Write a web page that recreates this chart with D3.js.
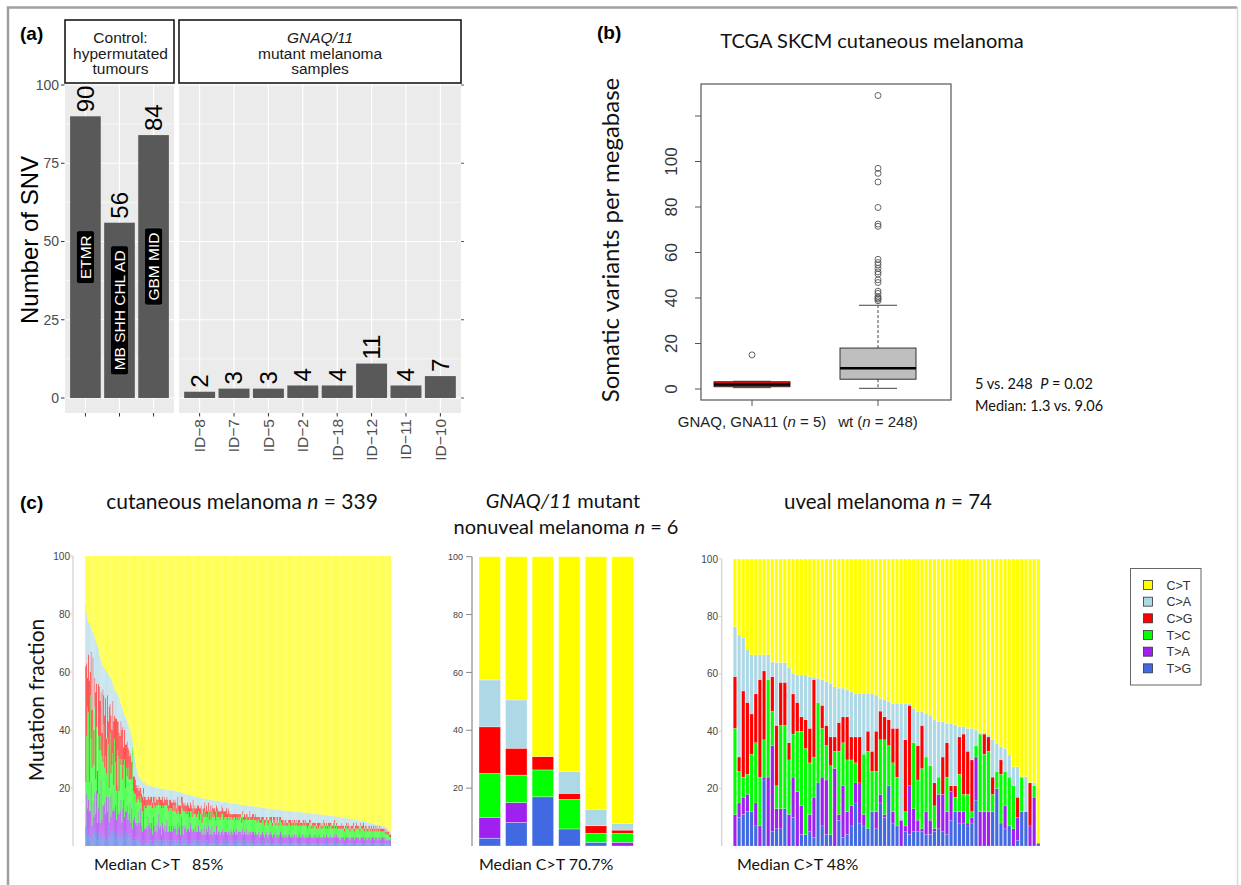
<!DOCTYPE html>
<html>
<head>
<meta charset="utf-8">
<script src="https://cdn.jsdelivr.net/npm/d3@7"></script>
<style>
  body { margin: 0; background: #fff; }
  svg { display: block; }
</style>
</head>
<body>
<div id="figure"></div>
<script>
// ---------- data: panel (a) ----------
const controlSamples = ["ETMR", "MB SHH CHL AD", "GBM MID"];
const controlSNV = [90, 56, 84];
const gnaqSamples = ["ID\u22128", "ID\u22127", "ID\u22125", "ID\u22122", "ID\u221218", "ID\u221212", "ID\u221211", "ID\u221210"];
const gnaqSNV = [2, 3, 3, 4, 4, 11, 4, 7];
const snvTicks = [0, 25, 50, 75, 100];
const stripControl = ["Control:", "hypermutated", "tumours"];
const stripGnaq = ["GNAQ/11", "mutant melanoma", "samples"];

// ---------- data: panel (b) ----------
const boxGroups = ["GNAQ, GNA11", "wt"];
const boxN = [5, 248];
const boxLow = [0.6, 0.3];
const boxQ1 = [1.0, 4.3];
const boxMedian = [2.0, 9.1];
const boxQ3 = [3.2, 18];
const boxHigh = [3.4, 36.8];
const gnaqOutliers = [15];
const wtOutliers = [38.8, 39.5, 40, 40.6, 42, 43, 46.8, 48, 50.5, 51.5, 53, 54.5, 55.6, 57, 71.5, 72.5, 79.8, 91, 94.8, 97, 129];
const tmbTicks = [0, 20, 40, 60, 80, 100, 120];

// ---------- data: panel (c) ----------
const mutTypes = ["C>T", "C>A", "C>G", "T>C", "T>A", "T>G"];
const fracTicks = [20, 40, 60, 80, 100];

// cutaneous melanoma, 339 samples (percent); C>A is what is left to 100
const cutCT = [
  17,20,22,23,23,24,25,26,26,27,
  28,29,30,31,32,34,35,36,37,38,
  38,39,39,40,40,41,41,42,42,43,
  44,45,46,47,47,48,48,49,50,51,
  52,53,54,55,56,56,57,58,59,60,
  61,62,64,67,69,71,73,74,75,76,
  76,77,77,78,78,78,78,79,79,79,
  79,79.1,79.2,79.4,79.5,79.6,79.6,79.8,79.9,80,80,80.1,80.2,80.2,80.3,80.4,80.4,80.5,80.5,80.6,80.6,80.6,80.7,80.7,80.8,80.8,80.8,80.9,80.9,81,
  81,81.1,81.2,81.3,81.4,81.5,81.6,81.7,81.8,81.9,82,82.1,82.2,82.2,82.3,82.4,82.5,82.6,82.7,82.7,82.8,82.9,83,83.1,83.1,83.2,83.3,83.3,83.4,83.5,
  83.6,83.6,83.7,83.8,83.8,83.9,83.9,84,84,84.1,84.2,84.2,84.3,84.3,84.4,84.4,84.5,84.5,84.6,84.6,84.7,84.7,84.8,84.8,84.9,84.9,84.9,85,85,85.1,
  85.2,85.2,85.3,85.3,85.4,85.4,85.5,85.5,85.6,85.6,85.7,85.7,85.8,85.8,85.9,85.9,86,86,86,86.1,86.1,86.2,86.2,86.3,86.3,86.3,86.4,86.4,86.5,86.5,
  86.5,86.6,86.6,86.7,86.7,86.8,86.8,86.9,86.9,87,87,87,87.1,87.1,87.2,87.2,87.3,87.3,87.3,87.4,87.4,87.5,87.5,87.5,87.6,87.6,87.6,87.7,87.7,87.7,
  87.8,87.8,87.8,87.9,87.9,87.9,88,88,88,88.1,88.1,88.1,88.2,88.2,88.2,88.3,88.3,88.3,88.4,88.4,88.4,88.5,88.5,88.5,88.6,88.6,88.6,88.7,88.7,88.8,
  88.8,88.8,88.9,88.9,88.9,89,89,89,89.1,89.1,89.1,89.2,89.2,89.2,89.3,89.3,89.4,89.4,89.4,89.5,89.5,89.6,89.6,89.6,89.7,89.7,89.8,89.8,89.9,89.9,
  90,90,90.1,90.1,90.2,90.2,90.3,90.3,90.4,90.4,90.5,90.5,90.6,90.6,90.7,90.7,90.8,90.8,90.9,90.9,91,91,91.1,91.1,91.2,91.2,91.3,91.3,91.4,91.5,
  91.6,91.7,91.8,91.8,91.9,92,92.1,92.2,92.2,92.3,92.4,92.5,92.6,92.6,92.7,92.8,92.9,93,93,93.1,
  93.1,93.2,93.4,93.6,93.8,94,94.3,94.6,95
];
const cutTG = [
  3,8,5,4,6,3,7,2,5,4, 6,3,5,2,4,6,3,5,2,4, 6,3,5,2,4,7,3,5,2,4, 6,3,5,2,4,6,3,5,2,4,
  3,5,2,4,3,5,2,4,3,5, 2,4,2,3,2,3,2,3,2,3, 2,1,2,1,2,1,2,1,2,1,
  2,1,2,2,1,2,2,1,2,2,1,2,2,2,1,2,2,1,2,2,2,1,2,2,1,2,2,1,2,2,
  2,1,2,2,2,1,2,3,1,2,2,1,2,2,1,2,1,2,2,1,2,2,1,2,1,2,2,1,2,1,
  2,1,2,1,2,2,1,1,2,1,2,1,1,2,1,2,1,1,2,1,1,2,1,1,2,1,2,1,1,2,
  1,2,2,1,2,2,1,2,1,2,2,1,2,1,2,1,2,1,2,1,2,1,1,2,1,2,1,1,2,1,
  1,1,2,1,1,1,2,1,1,1,2,1,1,1,1,2,1,1,1,1,2,1,1,1,1,1,2,1,1,1,
  1,1,1,1,1,2,1,1,1,1,1,1,2,1,1,1,1,1,1,1,2,1,1,1,1,1,1,1,2,1,
  1,1,1,1,1,2,1,1,1,1,1,1,1,1,1,1,1,2,1,1,1,1,1,1,1,1,2,1,1,1,
  1,1,1,1,1,1,1,1,1,1,1,1,1,1,1,1,1,1,1,1,1,1,1,1,1,1,1,1,1,1,
  1,1,1,1,1,1,1,1,1,1,1,1,1,1,1,1,1,1,1,1,
  1,1,1,1,1,1,1,1,1
];
const cutTA = [
  4,10,8,12,6,9,15,5,10,6, 12,8,14,6,9,12,5,18,7,10, 8,12,6,15,8,10,5,12,8,14, 6,10,7,12,5,15,8,6,10,12,
  5,8,14,6,9,7,12,5,8,10, 6,9,4,6,8,5,6,4,10,5, 6,12,5,4,14,5,4,6,4,9,
  5,7,4,6,3,8,5,4,6,3,6,9,4,5,3,6,4,6,3,5,7,4,3,5,4,5,3,6,4,5,
  4,3,6,4,5,3,8,4,3,5,4,6,3,4,5,3,7,4,3,5,4,3,6,3,4,5,3,4,4,3,
  4,3,5,3,4,3,6,3,4,3,5,3,4,3,3,5,3,4,3,3,4,3,5,3,3,4,3,3,4,3,
  3,4,3,3,4,3,3,4,3,3,3,4,3,3,4,3,3,3,4,3,3,3,4,3,3,3,4,3,3,3,
  3,3,3,2,3,3,3,3,2,3,3,3,2,3,3,3,3,2,3,3,3,2,3,3,2,3,3,3,2,3,
  2,3,2,3,2,2,3,2,2,3,2,3,2,2,3,2,2,3,2,2,2,3,2,2,3,2,2,2,2,3,
  2,2,2,3,2,2,2,2,2,3,2,2,2,2,3,2,2,2,2,2,2,3,2,2,2,2,2,2,3,2,
  2,2,1,2,2,2,2,1,2,2,2,2,2,1,2,2,2,2,1,2,2,2,2,2,1,2,2,2,2,1,
  2,2,1,2,2,2,1,2,2,2,1,2,2,2,1,2,2,1,2,2,
  2,2,1,2,1,1,1,1,1
];
const cutTC = [
  15,20,35,30,10,40,15,20,25,18, 30,12,22,10,25,15,30,10,22,15, 28,12,20,8,25,18,12,22,15,10, 20,8,25,15,10,12,20,8,18,12,
  22,10,12,20,8,15,10,18,12,8, 15,10,28,10,8,10,7,9,5,8, 7,4,8,7,2,8,7,6,8,4,
  7,6,8,7,9,5,7,8,6,9,7,4,8,7,9,6,7,7,9,7,5,8,7,6,8,6,7,7,6,7,
  6,7,5,6,4,7,5,6,8,5,6,4,7,5,6,5,4,6,5,7,5,6,4,5,6,5,4,6,5,4,
  5,6,5,6,5,5,5,5,6,5,5,6,6,5,5,5,6,5,5,5,5,6,5,5,5,5,5,5,5,5,
  5,4,5,5,4,5,5,4,5,5,4,5,5,4,5,5,4,5,4,5,4,5,5,4,5,4,5,5,4,5,
  4,5,4,5,4,4,4,5,4,4,4,5,4,4,5,4,4,4,5,4,4,4,4,5,4,4,4,4,4,4,
  4,4,4,3,4,4,4,4,4,4,4,3,4,4,4,4,4,4,4,4,3,4,4,4,4,4,3,4,4,4,
  3,4,3,3,4,3,3,4,3,3,4,3,4,3,3,4,3,3,3,4,3,3,4,3,3,3,4,3,3,3,
  3,3,4,3,3,3,3,3,3,4,3,3,3,3,3,3,3,4,3,3,3,3,3,3,3,4,3,3,3,3,
  3,3,3,2,3,3,3,3,2,3,3,3,2,3,3,2,3,3,2,2,
  2,2,2,2,2,2,2,1,1
];
const cutCG = [
  40,25,10,20,35,8,30,20,25,12, 10,30,15,8,18,22,12,20,8,25, 10,18,20,12,15,8,28,10,20,12, 18,22,8,15,25,10,12,20,8,15,
  10,18,6,10,15,8,12,7,10,8, 9,6,0,5,6,5,6,4,4,3, 5,3,3,5,2,3,4,3,2,3,
  3,2,3,2,2,2,3,2,3,2,2,2,3,2,3,3,2,3,2,2,3,3,2,3,3,2,3,2,3,2,
  3,2,4,2,3,3,2,4,3,2,3,3,2,4,2,3,3,2,3,3,2,3,2,3,3,2,4,2,3,3,
  2,3,3,2,3,2,3,3,2,3,2,3,2,3,3,2,3,2,2,3,2,3,2,3,2,2,3,2,3,2,
  2,1,1,2,1,1,2,1,2,1,2,1,1,2,1,1,2,1,1,2,1,1,2,1,1,2,1,1,2,1,
  2,1,1,2,1,2,1,1,2,1,1,1,2,1,1,1,2,1,1,2,1,1,2,1,1,2,1,1,2,1,
  1,1,2,1,1,1,1,2,1,1,1,2,1,1,1,1,2,1,1,1,1,1,2,1,1,1,2,1,1,1,
  1,1,2,1,1,1,1,1,2,1,1,1,1,1,2,1,1,1,1,1,2,1,1,1,1,2,1,1,1,1,
  1,1,1,1,2,1,1,1,1,1,1,2,1,1,1,1,1,1,1,1,2,1,1,1,1,1,1,1,2,1,
  1,1,1,1,1,1,1,1,1,1,1,1,1,1,1,1,1,1,1,1,
  1,1,1,1,1,1,1,1,1
];

// GNAQ/11 mutant nonuveal melanoma, 6 samples
const gnaqCT = [42.6, 49.5, 69.1, 74.3, 87.3, 92.2];
const gnaqTG = [2.7, 8.1, 17, 5.9, 1.3, 0];
const gnaqTA = [7.2, 6.9, 0, 0, 0, 1.3];
const gnaqTC = [15.2, 9.5, 9.3, 10.2, 3.1, 3.1];
const gnaqCG = [16.1, 9.3, 4.6, 2.1, 2.6, 1.1];

// uveal melanoma, 74 samples
const uvCT = [23.6,26.5,27.3,31.5,33.4,33.4,33.4,33.4,33.4,35.8, 36.1,36.1,36.1,37.7,39.8,40.4,40.4,40.4,41,41.2,
  41.6,42.1,42.7,43.3,44.5,45,45,45.6,46.2,46.8, 46.8,46.8,46.8,46.8,47.4,48.6,49.1,49.7,50.3,50.3,
  50.3,50.3,50.3,52,53.2,53.2,53.8,54.4,56.1,56.7, 56.7,57.3,57.3,57.8,58.4,58.4,59,59,59.6,60.5,
  60.5,61.3,63,64.2,65.4,66,68.3,72.4,72.4,75.8, 75.8,77.9,77.9,99];
const uvTG = [0,10,11,12,12,7,0,23,0,5, 6,6,13,0,10,0,4,4,5,3, 22,7,4,4,0,9,3,4,7,15, 8,7,6,12,6,15,10,21,8,7,
  0,5,4,5,5,5,4,4,5,6, 5,4,9,12,8,8,7,8,16,0, 0,0,12,20,8,6,7,0,2,12, 12,0,0,1];
const uvTA = [11,5,6,6,0,8,7,1,24,30, 7,7,0,11,14,19,10,0,6,14, 0,17,19,0,27,2,18,8,7,7, 14,4,0,0,6,3,1,0,4,0,
  9,2,17,8,4,1,8,5,1,12, 13,8,10,0,4,4,1,2,15,12, 12,12,0,0,0,8,0,6,8,0, 0,7,17,0];
const uvTC = [30,11,7,7,20,21,17,13,34,12, 8,29,29,19,15,21,26,30,18,14, 28,17,12,24,6,22,15,18,16,7, 0,21,27,14,14,19,26,14,17,17,
  0,5,0,23,14,21,19,19,8,6, 0,12,0,5,13,6,10,2,4,27, 20,21,6,6,17,12,17,15,0,12, 0,0,4,0];
const uvCG = [18,5,30,25,14,17,34,24,0,12, 21,15,15,6,14,10,5,10,12,27, 0,8,7,10,5,10,9,15,8,9, 16,0,7,7,14,10,8,9,12,17,
  0,25,28,0,12,15,0,0,8,0, 13,12,2,4,13,21,15,18,0,0, 7,5,6,0,5,0,0,0,7,0, 0,15,0,0];

// ---------- drawing ----------
const ARIAL = "'Liberation Sans', Arial, Helvetica, sans-serif";
const CAL = "Lato, 'Open Sans', sans-serif";
const mutColor = { "C>T": "#FFFF00", "C>A": "#ADD8E6", "C>G": "#FF0000", "T>C": "#00FF00", "T>A": "#A020F0", "T>G": "#4169E1" };
const stackKeys = mutTypes.slice().reverse(); // T>G at the bottom, C>T on top

const svg = d3.select("#figure").append("svg").attr("width", 1241).attr("height", 885);
svg.append("rect").attr("width", 1241).attr("height", 885).attr("fill", "#fff");

// outer frame
svg.append("path").attr("d", "M8,885 V7.5 H1237").attr("fill", "none").attr("stroke", "#a0a0a0").attr("stroke-width", 2.5);
svg.append("line").attr("x1", 1237.5).attr("x2", 1237.5).attr("y1", 7).attr("y2", 885).attr("stroke", "#d8d8d8").attr("stroke-width", 1.5);

// panel letters
[["(a)", 20, 40], ["(b)", 597, 39], ["(c)", 20, 509]].forEach(function(p) {
  svg.append("text").attr("x", p[1]).attr("y", p[2]).text(p[0])
    .style("font-family", ARIAL).style("font-weight", "bold").style("font-size", "19px");
});

// ===== panel (a) =====
const aY = d3.scaleLinear().domain([0, 100]).range([398, 85]);
const aTop = 84, aBottom = 413;
const minorTicks = d3.pairs(snvTicks).map(function(p) { return (p[0] + p[1]) / 2; });

const facets = [
  { x0: 65, x1: 174, names: controlSamples, values: controlSNV, strip: stripControl, showX: false },
  { x0: 179, x1: 461, names: gnaqSamples, values: gnaqSNV, strip: stripGnaq, showX: true }
];

facets.forEach(function(f, fi) {
  const x = d3.scaleBand().domain(f.names).range([f.x0, f.x1]).paddingInner(0.1).paddingOuter(0.15);
  const g = svg.append("g");

  g.append("rect").attr("x", f.x0).attr("y", aTop).attr("width", f.x1 - f.x0).attr("height", aBottom - aTop).attr("fill", "#EBEBEB");

  minorTicks.forEach(function(v) {
    g.append("line").attr("x1", f.x0).attr("x2", f.x1).attr("y1", aY(v)).attr("y2", aY(v))
      .attr("stroke", "#fff").attr("stroke-width", 0.6);
  });
  snvTicks.forEach(function(v) {
    g.append("line").attr("x1", f.x0).attr("x2", f.x1).attr("y1", aY(v)).attr("y2", aY(v))
      .attr("stroke", "#fff").attr("stroke-width", 1.2);
  });
  f.names.forEach(function(n) {
    const cx = x(n) + x.bandwidth() / 2;
    g.append("line").attr("x1", cx).attr("x2", cx).attr("y1", aTop).attr("y2", aBottom)
      .attr("stroke", "#fff").attr("stroke-width", 1.2);
    g.append("line").attr("x1", cx).attr("x2", cx).attr("y1", aBottom).attr("y2", aBottom + 3.5)
      .attr("stroke", "#333").attr("stroke-width", 1);
  });

  // bars
  g.selectAll(".bar").data(f.values).enter().append("rect")
    .attr("x", function(d, i) { return x(f.names[i]); })
    .attr("y", function(d) { return aY(d); })
    .attr("width", x.bandwidth())
    .attr("height", function(d) { return aY(0) - aY(d); })
    .attr("fill", "#595959");

  // value labels above bars
  g.selectAll(".val").data(f.values).enter().append("text")
    .attr("transform", function(d, i) {
      return "translate(" + (x(f.names[i]) + x.bandwidth() / 2) + "," + (aY(d) - 4) + ") rotate(-90)";
    })
    .attr("dy", "0.35em")
    .style("font-family", ARIAL).style("font-size", "24px").style("fill", "#000")
    .text(function(d) { return d; });

  // names inside control bars
  if (!f.showX) {
    f.names.forEach(function(n, i) {
      const lg = g.append("g").attr("transform",
        "translate(" + (x(n) + x.bandwidth() / 2) + "," + aY(f.values[i] / 2) + ") rotate(-90)");
      const box = lg.append("rect");
      const t = lg.append("text").attr("text-anchor", "middle").attr("dy", "0.36em")
        .style("font-family", ARIAL).style("font-size", "15.5px").style("fill", "#fff").text(n);
      const w = t.node().getComputedTextLength() + 9;
      box.attr("x", -w / 2).attr("y", -9).attr("width", w).attr("height", 18).attr("rx", 2.5)
        .attr("fill", "#000").attr("stroke", "#777").attr("stroke-width", 0.6);
    });
  }

  // strip
  g.append("rect").attr("x", f.x0).attr("y", 20).attr("width", f.x1 - f.x0).attr("height", 63)
    .attr("fill", "#fff").attr("stroke", "#1a1a1a").attr("stroke-width", 1.6);
  f.strip.forEach(function(s, si) {
    g.append("text").attr("x", (f.x0 + f.x1) / 2 + (fi === 0 ? 1 : 0)).attr("y", 43 + si * 15.5)
      .attr("text-anchor", "middle")
      .style("font-family", ARIAL).style("font-size", "15.5px").style("fill", "#1a1a1a")
      .style("font-style", (fi === 1 && si === 0) ? "italic" : "normal")
      .text(s);
  });

  // axes
  if (fi === 0) {
    snvTicks.forEach(function(v) {
      g.append("line").attr("x1", 61).attr("x2", 64.5).attr("y1", aY(v)).attr("y2", aY(v)).attr("stroke", "#333");
      g.append("text").attr("x", 59).attr("y", aY(v)).attr("dy", "0.35em").attr("text-anchor", "end")
        .style("font-family", ARIAL).style("font-size", "14px").style("fill", "#4D4D4D").text(v);
    });
  } else {
    snvTicks.forEach(function(v) {
      g.append("line").attr("x1", f.x1).attr("x2", f.x1 + 3).attr("y1", aY(v)).attr("y2", aY(v)).attr("stroke", "#555");
    });
    f.names.forEach(function(n) {
      g.append("text")
        .attr("transform", "translate(" + (x(n) + x.bandwidth() / 2) + "," + (aBottom + 6) + ") rotate(-90)")
        .attr("dy", "0.35em").attr("text-anchor", "end")
        .style("font-family", ARIAL).style("font-size", "15.5px").style("fill", "#4D4D4D").text(n);
    });
  }
});

svg.append("text").attr("transform", "translate(38,240) rotate(-90)").attr("text-anchor", "middle")
  .style("font-family", ARIAL).style("font-size", "24px").style("fill", "#000").text("Number of SNV");

// ===== panel (b) =====
const bY = d3.scaleLinear().domain([0, 120]).range([389, 116]);
const bX = d3.scalePoint().domain(boxGroups).range([752, 878]);
const gb = svg.append("g");

gb.append("text").attr("x", 872).attr("y", 48).attr("text-anchor", "middle")
  .style("font-family", CAL).style("font-size", "20px").style("fill", "#111").text("TCGA SKCM cutaneous melanoma");

gb.append("text").attr("transform", "translate(619,240) rotate(-90)").attr("text-anchor", "middle")
  .style("font-family", CAL).style("font-size", "24px").style("fill", "#111").text("Somatic variants per megabase");

tmbTicks.forEach(function(v) {
  gb.append("line").attr("x1", 695).attr("x2", 701).attr("y1", bY(v)).attr("y2", bY(v)).attr("stroke", "#555");
  if (v < 120) {
    gb.append("text").attr("transform", "translate(677," + bY(v) + ") rotate(-90)").attr("text-anchor", "middle")
      .style("font-family", ARIAL).style("font-size", "17px").style("fill", "#333").text(v);
  }
});

const boxFill = ["#FF0000", "#BEBEBE"];
const outliers = [gnaqOutliers, wtOutliers];
boxGroups.forEach(function(grp, i) {
  const cx = bX(grp), hw = 38;
  gb.append("line").attr("x1", cx).attr("x2", cx).attr("y1", 400).attr("y2", 406).attr("stroke", "#555");
  // whiskers
  gb.append("line").attr("x1", cx).attr("x2", cx).attr("y1", bY(boxQ3[i])).attr("y2", bY(boxHigh[i]))
    .attr("stroke", "#444").attr("stroke-dasharray", "3,2");
  gb.append("line").attr("x1", cx).attr("x2", cx).attr("y1", bY(boxQ1[i])).attr("y2", bY(boxLow[i]))
    .attr("stroke", "#444").attr("stroke-dasharray", "3,2");
  [boxHigh[i], boxLow[i]].forEach(function(v) {
    gb.append("line").attr("x1", cx - hw / 2).attr("x2", cx + hw / 2).attr("y1", bY(v)).attr("y2", bY(v)).attr("stroke", "#444");
  });
  gb.append("rect").attr("x", cx - hw).attr("width", 2 * hw)
    .attr("y", bY(boxQ3[i])).attr("height", bY(boxQ1[i]) - bY(boxQ3[i]))
    .attr("fill", boxFill[i]).attr("stroke", "#333").attr("stroke-width", 1);
  gb.append("line").attr("x1", cx - hw).attr("x2", cx + hw).attr("y1", bY(boxMedian[i])).attr("y2", bY(boxMedian[i]))
    .attr("stroke", "#000").attr("stroke-width", 2.6);
  gb.selectAll(".out" + i).data(outliers[i]).enter().append("circle")
    .attr("cx", cx).attr("cy", function(d) { return bY(d); }).attr("r", 3)
    .attr("fill", "none").attr("stroke", "#555").attr("stroke-width", 0.9);

  const lab = gb.append("text").attr("x", cx).attr("y", 427).attr("text-anchor", "middle")
    .style("font-family", ARIAL).style("font-size", "15px").style("fill", "#222");
  lab.append("tspan").text(grp + " (");
  lab.append("tspan").style("font-style", "italic").text("n");
  lab.append("tspan").text(" = " + boxN[i] + ")");
});

gb.append("rect").attr("x", 701).attr("y", 84).attr("width", 250).attr("height", 316)
  .attr("fill", "none").attr("stroke", "#555").attr("stroke-width", 1.2);

const note1 = gb.append("text").attr("x", 975).attr("y", 389)
  .style("font-family", CAL).style("font-size", "14.5px").style("fill", "#111").style("white-space", "pre");
note1.append("tspan").text("5 vs. 248  ");
note1.append("tspan").style("font-style", "italic").text("P");
note1.append("tspan").text(" = 0.02");
gb.append("text").attr("x", 975).attr("y", 411)
  .style("font-family", CAL).style("font-size", "14.5px").style("fill", "#111").text("Median: 1.3 vs. 9.06");

// ===== panel (c) =====
function makeRows(ct, tg, ta, tc, cg) {
  return ct.map(function(v, i) {
    const row = { "C>T": v, "T>G": tg[i] || 0, "T>A": ta[i] || 0, "T>C": tc[i] || 0, "C>G": cg[i] || 0 };
    row["C>A"] = Math.max(0, 100 - v - row["T>G"] - row["T>A"] - row["T>C"] - row["C>G"]);
    return row;
  });
}

function drawStack(rows, opt) {
  const x = d3.scaleBand().domain(d3.range(rows.length)).range([opt.x0, opt.x1])
    .paddingInner(opt.pad).paddingOuter(0);
  const y = d3.scaleLinear().domain([0, 100]).range([opt.yBottom, opt.yTop]);
  const layers = d3.stack().keys(stackKeys)(rows);
  const g = svg.append("g").attr("fill-opacity", opt.opacity);
  g.selectAll("g").data(layers).enter().append("g")
    .attr("fill", function(d) { return mutColor[d.key]; })
    .selectAll("rect").data(function(d) { return d; }).enter().append("rect")
    .attr("x", function(d, i) { return x(i); })
    .attr("width", x.bandwidth())
    .attr("y", function(d) { return y(d[1]); })
    .attr("height", function(d) { return Math.max(0, y(d[0]) - y(d[1])); })
    .attr("stroke", opt.stroke).attr("stroke-width", opt.strokeWidth);

  // axis
  const ax = svg.append("g");
  ax.append("line").attr("x1", opt.axisX).attr("x2", opt.axisX).attr("y1", y(100)).attr("y2", opt.yBottom)
    .attr("stroke", opt.axisColor).attr("stroke-width", 1.2);
  fracTicks.forEach(function(v) {
    ax.append("line").attr("x1", opt.axisX - opt.tickLen).attr("x2", opt.axisX).attr("y1", y(v)).attr("y2", y(v))
      .attr("stroke", opt.axisColor);
    ax.append("text").attr("x", opt.labelX).attr("y", y(v)).attr("dy", "0.35em").attr("text-anchor", "end")
      .style("font-family", ARIAL).style("font-size", opt.labelSize).style("fill", "#444").text(v);
  });
}

drawStack(makeRows(cutCT, cutTG, cutTA, cutTC, cutCG), {
  x0: 85.3, x1: 391, pad: 0, yBottom: 846, yTop: 556, opacity: 0.72, stroke: "none", strokeWidth: 0,
  axisX: 73, axisColor: "#d0d0d0", tickLen: 3, labelX: 70, labelSize: "10px"
});
drawStack(makeRows(gnaqCT, gnaqTG, gnaqTA, gnaqTC, gnaqCG), {
  x0: 479, x1: 633.3, pad: 0.19, yBottom: 846, yTop: 556.7, opacity: 1, stroke: "rgba(255,255,255,0.55)", strokeWidth: 0.6,
  axisX: 472, axisColor: "#8a8a8a", tickLen: 6, labelX: 463, labelSize: "9px"
});
drawStack(makeRows(uvCT, uvTG, uvTA, uvTC, uvCG), {
  x0: 733.3, x1: 1040, pad: 0.2, yBottom: 846, yTop: 559, opacity: 1, stroke: "rgba(255,255,255,0.4)", strokeWidth: 0.4,
  axisX: 721.7, axisColor: "#d0d0d0", tickLen: 3, labelX: 718, labelSize: "10px"
});

// titles of panel (c)
function titleLine(x, y, size, parts) {
  const t = svg.append("text").attr("x", x).attr("y", y).attr("text-anchor", "middle")
    .style("font-family", CAL).style("font-size", size).style("fill", "#111");
  parts.forEach(function(p) {
    t.append("tspan").style("font-style", p[1] ? "italic" : "normal").text(p[0]);
  });
}
titleLine(242, 509, "21px", [["cutaneous melanoma ", false], ["n", true], [" = 339", false]]);
titleLine(563, 508, "20px", [["GNAQ/11", true], [" mutant", false]]);
titleLine(566, 534, "20px", [["nonuveal melanoma ", false], ["n", true], [" = 6", false]]);
titleLine(888, 509, "20.5px", [["uveal melanoma ", false], ["n", true], [" = 74", false]]);

[["Median C>T   85%", 94], ["Median C>T 70.7%", 479], ["Median C>T 48%", 737]].forEach(function(m) {
  svg.append("text").attr("x", m[1]).attr("y", 870).style("white-space", "pre")
    .style("font-family", CAL).style("font-size", "16px").style("fill", "#111").text(m[0]);
});

svg.append("text").attr("transform", "translate(44,700) rotate(-90)").attr("text-anchor", "middle")
  .style("font-family", CAL).style("font-size", "21px").style("fill", "#111").text("Mutation fraction");

// legend
const lg = svg.append("g");
lg.append("rect").attr("x", 1130.5).attr("y", 568.5).attr("width", 70.5).attr("height", 116.5)
  .attr("fill", "#fff").attr("stroke", "#666").attr("stroke-width", 1);
mutTypes.forEach(function(m, i) {
  const cy = 585 + i * 16.67;
  lg.append("rect").attr("x", 1143.5).attr("y", cy - 4.5).attr("width", 9).attr("height", 9)
    .attr("fill", mutColor[m]).attr("stroke", "#333").attr("stroke-width", 0.8);
  lg.append("text").attr("x", 1166.5).attr("y", cy).attr("dy", "0.36em")
    .style("font-family", ARIAL).style("font-size", "12.5px").style("fill", "#333").text(m);
});
</script>
</body>
</html>
